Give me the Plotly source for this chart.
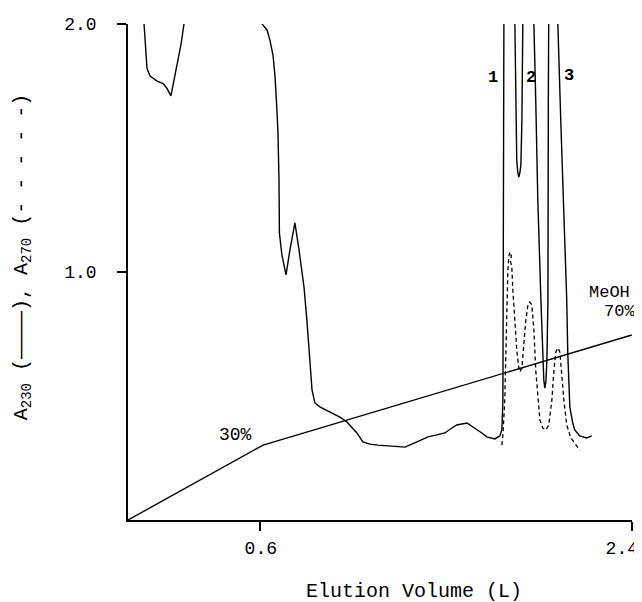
import plotly.graph_objects as go

# Elution volume (L) and absorbance readings
a230_x1 = [0.034, 0.039, 0.048, 0.053, 0.068, 0.102, 0.131, 0.150, 0.169, 0.184, 0.198, 0.218, 0.232, 0.242]
a230_y1 = [2.06, 2.00, 1.90, 1.82, 1.79, 1.77, 1.76, 1.74, 1.71, 1.77, 1.83, 1.92, 2.00, 2.06]

a230_x2 = [0.590, 0.610, 0.634, 0.648, 0.663, 0.673, 0.682, 0.687, 0.692, 0.694, 0.706, 0.726, 0.745,
           0.769, 0.789, 0.813, 0.827, 0.837, 0.842, 0.852, 0.866, 0.890, 0.939, 0.987, 1.021, 1.069,
           1.098, 1.132, 1.171, 1.229, 1.302, 1.360, 1.413, 1.456, 1.495, 1.529, 1.553, 1.602, 1.640,
           1.674, 1.698, 1.737, 1.761, 1.771, 1.776, 1.778, 1.781, 1.781,
           1.808,
           1.834, 1.834, 1.839, 1.843, 1.848, 1.853, 1.858, 1.863, 1.868, 1.873, 1.873,
           1.897,
           1.921, 1.926, 1.935, 1.945, 1.960, 1.969, 1.974, 1.979, 1.984, 1.989, 1.994, 1.996, 1.998, 1.998,
           2.018,
           2.037, 2.042, 2.056, 2.071, 2.085, 2.090, 2.100, 2.114, 2.124, 2.148, 2.182, 2.206]
a230_y2 = [2.06, 2.000, 1.976, 1.935, 1.875, 1.786, 1.653, 1.560, 1.371, 1.157, 1.069, 0.988, 1.089,
           1.198, 1.089, 0.940, 0.806, 0.685, 0.617, 0.524, 0.472, 0.456, 0.435, 0.415, 0.395, 0.351,
           0.315, 0.306, 0.302, 0.298, 0.294, 0.315, 0.335, 0.343, 0.351, 0.371, 0.383, 0.391, 0.371,
           0.351, 0.335, 0.327, 0.339, 0.363, 0.484, 0.887, 1.694, 2.06,
           2.40,
           2.06, 2.000, 1.694, 1.452, 1.403, 1.383, 1.399, 1.431, 1.613, 2.000, 2.06,
           2.40,
           2.06, 2.000, 1.694, 1.290, 0.887, 0.645, 0.565, 0.532, 0.556, 0.645, 0.887, 1.694, 2.000, 2.06,
           2.40,
           2.06, 2.000, 1.613, 1.250, 0.887, 0.673, 0.456, 0.391, 0.363, 0.339, 0.331, 0.339]

a270_x = [1.771, 1.776, 1.785, 1.790, 1.795, 1.800, 1.805, 1.810, 1.817, 1.812, 1.819, 1.824, 1.834,
          1.843, 1.853, 1.858, 1.868, 1.877, 1.887, 1.897, 1.906, 1.916, 1.926, 1.935, 1.945, 1.955,
          1.969, 1.984, 1.998, 2.013, 2.023, 2.032, 2.042, 2.052, 2.061, 2.071, 2.085, 2.105, 2.124, 2.148]
a270_y = [0.302, 0.343, 0.484, 0.685, 0.887, 1.008, 1.065, 1.081, 1.065, 1.044, 1.024, 0.927, 0.806,
          0.685, 0.613, 0.597, 0.613, 0.706, 0.806, 0.867, 0.879, 0.867, 0.766, 0.605, 0.484, 0.403,
          0.371, 0.363, 0.383, 0.484, 0.605, 0.677, 0.694, 0.677, 0.585, 0.484, 0.383, 0.331, 0.310, 0.282]

gradient_x = [-0.039, 0.615, 2.40]
gradient_y = [0.0, 0.302, 0.746]

peak_labels = ["1", "2", "3"]
peak_label_x = [1.727, 1.911, 2.095]
peak_label_y = [1.786, 1.786, 1.794]

x_tickvals = [0.6, 2.4]
x_ticktext = ["\u00a0\u00a00.6", "2.4"]
y_tickvals = [1.0, 2.0]
y_ticktext = ["1.0", "2.0"]

FONT = "Liberation Mono"
fig = go.Figure()
line_style = dict(color="black", width=1.4)
fig.add_trace(go.Scatter(x=a230_x1, y=a230_y1, mode="lines", line=line_style, showlegend=False))
fig.add_trace(go.Scatter(x=a230_x2, y=a230_y2, mode="lines", line=line_style, showlegend=False))
fig.add_trace(go.Scatter(x=a270_x, y=a270_y, mode="lines",
                         line=dict(color="black", width=1.3, dash="4px,3px"), showlegend=False))
fig.add_trace(go.Scatter(x=gradient_x, y=gradient_y, mode="lines", line=line_style, showlegend=False))

for t, x, y in zip(peak_labels, peak_label_x, peak_label_y):
    fig.add_annotation(x=x, y=y, text="<b>" + t + "</b>", showarrow=False,
                       font=dict(family=FONT, size=17, color="black"))
fig.add_annotation(x=0.479, y=0.343, text="30%", showarrow=False, font=dict(family=FONT, size=18, color="black"))
fig.add_annotation(x=2.4, y=0.919, text="MeOH", showarrow=False, xanchor="right",
                   font=dict(family=FONT, size=17, color="black"))
fig.add_annotation(x=2.4, y=0.839, text="70%", showarrow=False, xanchor="center", xshift=-12,
                   font=dict(family=FONT, size=17, color="black"))

# axis titles
fig.add_annotation(xref="paper", yref="paper", x=0.567, y=-0.145, xanchor="center", yanchor="middle",
                   text="Elution Volume (L)", showarrow=False,
                   font=dict(family=FONT, size=20, color="black"))
fig.add_annotation(xref="paper", yref="paper", x=-0.210, y=0.530, xanchor="center", yanchor="middle",
                   textangle=-90, showarrow=False,
                   text="A<sub>230</sub> (————), A<sub>270</sub> (- - - - -)",
                   font=dict(family=FONT, size=20, color="black"))

fig.update_layout(
    width=642, height=602,
    margin=dict(l=120, r=18, t=16, b=90),
    paper_bgcolor="white", plot_bgcolor="white",
    font=dict(family=FONT, size=17, color="black"),
)
fig.update_xaxes(
    range=[-0.039, 2.401], showgrid=False, zeroline=False, automargin=False,
    showline=True, linecolor="black", linewidth=1.5,
    tickmode="array", tickvals=x_tickvals, ticktext=x_ticktext,
    ticks="outside", ticklen=9, tickwidth=1.5, tickcolor="black",
    ticklabelstandoff=2, ticklabelshift=-10, ticklabeloverflow="allow",
    tickfont=dict(family=FONT, size=18),
)
fig.update_yaxes(
    range=[0, 2.0], showgrid=False, zeroline=False, automargin=False,
    showline=True, linecolor="black", linewidth=1.5,
    tickmode="array", tickvals=y_tickvals, ticktext=y_ticktext,
    ticks="outside", ticklen=9, tickwidth=1.5, tickcolor="black",
    ticklabelstandoff=17,
    tickfont=dict(family=FONT, size=18),
)

fig.write_html("out.html")
